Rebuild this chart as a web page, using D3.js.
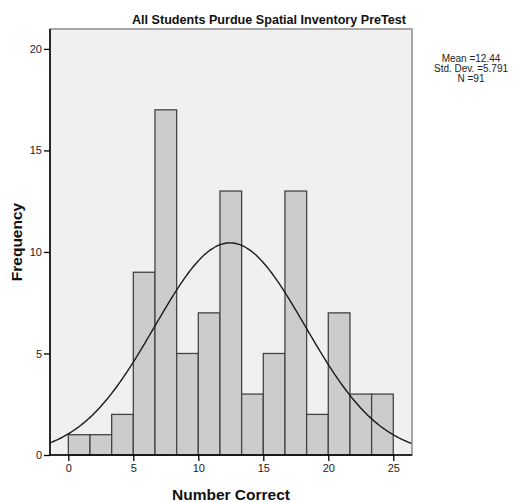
<!DOCTYPE html>
<html>
<head>
<meta charset="utf-8">
<script src="https://cdn.jsdelivr.net/npm/d3@7"></script>
<style>
  html, body { margin: 0; padding: 0; background: #ffffff; }
  svg { display: block; font-family: "Liberation Sans", Arial, sans-serif; }
</style>
</head>
<body>
<svg id="chart" width="518" height="502"></svg>
<script>
// Histogram of PreTest scores with fitted normal curve
const title = "All Students Purdue Spatial Inventory PreTest";
const xLabel = "Number Correct";
const yLabel = "Frequency";
const binStart = 0;
const binEnd = 25;
const counts = [1, 1, 2, 9, 17, 5, 7, 13, 3, 5, 13, 2, 7, 3, 3];
const xTicks = [0, 5, 10, 15, 20, 25];
const yTicks = [0, 5, 10, 15, 20];
const statsLines = ["Mean =12.44", "Std. Dev. =5.791", "N =91"];
const mean = 12.44;
const sd = 5.791;
const n = 91;

const svg = d3.select("#chart");
const plot = { left: 50, right: 412, top: 29, bottom: 455 };

const binWidth = (binEnd - binStart) / counts.length;
const bins = counts.map((c, i) => ({ x0: binStart + i * binWidth, x1: binStart + (i + 1) * binWidth, count: c }));

const x = d3.scaleLinear().domain([-1.41, 26.44]).range([plot.left, plot.right]);
const y = d3.scaleLinear().domain([0, 20.98]).range([plot.bottom, plot.top]);

// plot background and frame
svg.append("rect")
  .attr("x", plot.left).attr("y", plot.top)
  .attr("width", plot.right - plot.left).attr("height", plot.bottom - plot.top)
  .attr("fill", "#f0f0f0")
  .attr("stroke", "#8c8c8c").attr("stroke-width", 1.5);

// bars
svg.append("g").selectAll("rect").data(bins).join("rect")
  .attr("x", d => x(d.x0))
  .attr("y", d => y(d.count))
  .attr("width", d => x(d.x1) - x(d.x0))
  .attr("height", d => y(0) - y(d.count))
  .attr("fill", "#cccccc")
  .attr("stroke", "#444444")
  .attr("stroke-width", 1.3);

// normal curve scaled to counts
const pdf = v => Math.exp(-0.5 * ((v - mean) / sd) ** 2) / (sd * Math.sqrt(2 * Math.PI));
const curvePts = d3.range(-1.41, 26.44 + 1e-9, 0.1).map(v => [v, n * binWidth * pdf(v)]);
svg.append("path")
  .datum(curvePts)
  .attr("fill", "none")
  .attr("stroke", "#1a1a1a")
  .attr("stroke-width", 1.4)
  .attr("d", d3.line().x(d => x(d[0])).y(d => y(d[1])).curve(d3.curveBasis));

// axes
const xAxis = d3.axisBottom(x).tickValues(xTicks).tickSize(6).tickPadding(3);
const yAxis = d3.axisLeft(y).tickValues(yTicks).tickSize(6).tickPadding(2);

const gx = svg.append("g").attr("transform", `translate(0,${plot.bottom})`).call(xAxis);
const gy = svg.append("g").attr("transform", `translate(${plot.left},0)`).call(yAxis);

[gx, gy].forEach(g => {
  g.select(".domain").remove();
  g.selectAll(".tick line").attr("stroke", "#000").attr("stroke-width", 1.3);
  g.selectAll(".tick text").attr("fill", "#222").attr("font-size", 11)
    .attr("font-family", "Liberation Sans, Arial, sans-serif");
});

// axis lines drawn in black over the frame
svg.append("line").attr("x1", plot.left).attr("x2", plot.left)
  .attr("y1", plot.top).attr("y2", plot.bottom)
  .attr("stroke", "#000").attr("stroke-width", 1.5);
svg.append("line").attr("x1", plot.left).attr("x2", plot.right)
  .attr("y1", plot.bottom).attr("y2", plot.bottom)
  .attr("stroke", "#000").attr("stroke-width", 1.5);

// title
svg.append("text")
  .attr("x", 269).attr("y", 24)
  .attr("text-anchor", "middle")
  .attr("font-weight", "bold").attr("font-size", 12.6)
  .attr("fill", "#111")
  .text(title);

// axis titles
svg.append("text")
  .attr("x", (plot.left + plot.right) / 2).attr("y", 500)
  .attr("text-anchor", "middle")
  .attr("font-weight", "bold").attr("font-size", 15.5)
  .attr("fill", "#111")
  .text(xLabel);

svg.append("text")
  .attr("transform", `translate(22,${(plot.top + plot.bottom) / 2}) rotate(-90)`)
  .attr("text-anchor", "middle")
  .attr("font-weight", "bold").attr("font-size", 15.5)
  .attr("fill", "#111")
  .text(yLabel);

// summary statistics
svg.append("g").selectAll("text").data(statsLines).join("text")
  .attr("x", 471)
  .attr("y", (d, i) => 62 + i * 10)
  .attr("text-anchor", "middle")
  .attr("font-size", 10)
  .attr("fill", "#222")
  .text(d => d);
</script>
</body>
</html>
